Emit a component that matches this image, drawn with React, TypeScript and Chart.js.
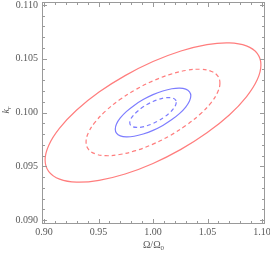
import React, { useEffect, useRef } from "react";
import { Chart, registerables } from "chart.js";

Chart.register(...registerables);

// ---- axis ticks ----
const xMajorTicks = [0.9, 0.95, 1.0, 1.05, 1.1];
const xTickLabels = ["0.90", "0.95", "1.00", "1.05", "1.10"];
const xMinorTicks = [0.91, 0.92, 0.93, 0.94, 0.96, 0.97, 0.98, 0.99, 1.01, 1.02, 1.03, 1.04, 1.06, 1.07, 1.08, 1.09];
const yMajorTicks = [0.09, 0.095, 0.1, 0.105, 0.11];
const yTickLabels = ["0.090", "0.095", "0.100", "0.105", "0.110"];
const yMinorTicks = [0.091, 0.092, 0.093, 0.094, 0.096, 0.097, 0.098, 0.099, 0.101, 0.102, 0.103, 0.104, 0.106, 0.107, 0.108, 0.109];
const xRange = [0.898165, 1.102752];
const yRange = [0.089628, 0.110279];

// ---- contours ----
const redOuterX = [1.099, 1.0956, 1.0857, 1.07, 1.0495, 1.0256, 1.0, 0.9744, 0.9505, 0.93, 0.9143, 0.9044, 0.901, 0.9044, 0.9143, 0.93, 0.9505, 0.9744, 1.0, 1.0256, 1.0495, 1.07, 1.0857, 1.0956];
const redOuterY = [0.10442, 0.10304, 0.10146, 0.09977, 0.09811, 0.09657, 0.09526, 0.09428, 0.09369, 0.09352, 0.0938, 0.0945, 0.09558, 0.09696, 0.09854, 0.10023, 0.1019, 0.10343, 0.10474, 0.10572, 0.10632, 0.10648, 0.1062, 0.1055];

const redInnerX = [1.0614, 1.0593, 1.0532, 1.0434, 1.0307, 1.0159, 1.0, 0.9841, 0.9693, 0.9566, 0.9469, 0.9407, 0.9386, 0.9407, 0.9469, 0.9566, 0.9693, 0.9841, 1.0, 1.0159, 1.0307, 1.0434, 1.0532, 1.0593];
const redInnerY = [0.10274, 0.10189, 0.1009, 0.09986, 0.09883, 0.09787, 0.09706, 0.09645, 0.09609, 0.09598, 0.09616, 0.09659, 0.09726, 0.09811, 0.0991, 0.10014, 0.10118, 0.10213, 0.10294, 0.10355, 0.10392, 0.10402, 0.10384, 0.10341];

const blueOuterX = [1.0347, 1.0335, 1.03, 1.0245, 1.0173, 1.009, 1.0, 0.991, 0.9827, 0.9755, 0.97, 0.9665, 0.9654, 0.9665, 0.97, 0.9755, 0.9827, 0.991, 1.0, 1.009, 1.0173, 1.0245, 1.03, 1.0335];
const blueOuterY = [0.10155, 0.10107, 0.10051, 0.09992, 0.09934, 0.0988, 0.09834, 0.098, 0.09779, 0.09773, 0.09783, 0.09808, 0.09845, 0.09893, 0.09949, 0.10008, 0.10066, 0.1012, 0.10166, 0.102, 0.10221, 0.10227, 0.10217, 0.10192];

const blueInnerX = [1.0213, 1.0206, 1.0184, 1.0151, 1.0106, 1.0055, 1.0, 0.9945, 0.9894, 0.985, 0.9816, 0.9794, 0.9787, 0.9794, 0.9816, 0.985, 0.9894, 0.9945, 1.0, 1.0055, 1.0106, 1.0151, 1.0184, 1.0206];
const blueInnerY = [0.10095, 0.10065, 0.10031, 0.09995, 0.09959, 0.09926, 0.09898, 0.09877, 0.09864, 0.09861, 0.09867, 0.09882, 0.09905, 0.09935, 0.09969, 0.10005, 0.10041, 0.10074, 0.10102, 0.10123, 0.10136, 0.10139, 0.10133, 0.10118];

const RED = "rgb(255,125,125)";
const BLUE = "rgb(125,125,255)";

function loop(xs: number[], ys: number[]) {
  const pts = xs.map((x, i) => ({ x, y: ys[i] }));
  const n = pts.length;
  return [pts[n - 1], ...pts, pts[0], pts[1]];
}

function contour(xs: number[], ys: number[], color: string, dash: number[]) {
  const data = loop(xs, ys);
  const len = data.length;
  return {
    data,
    showLine: true,
    borderColor: color,
    borderWidth: 1.2,
    borderDash: dash,
    tension: 0.4,
    pointRadius: 0,
    fill: false,
    segment: {
      borderColor: (ctx: any) =>
        ctx.p0DataIndex === 0 || ctx.p1DataIndex === len - 1 ? "rgba(0,0,0,0)" : undefined,
    },
  };
}

const framePlugin = {
  id: "mmaFrame",
  afterDraw(chart: any) {
    const { ctx, chartArea: a, scales } = chart;
    const xs = scales.x;
    const ys = scales.y;
    ctx.save();
    ctx.strokeStyle = "#9a9a9a";
    ctx.lineWidth = 1;
    ctx.strokeRect(a.left + 0.5, a.top + 0.5, a.right - a.left - 1, a.bottom - a.top - 1);
    ctx.beginPath();
    const xt = (v: number, len: number) => {
      const p = Math.round(xs.getPixelForValue(v)) + 0.5;
      ctx.moveTo(p, a.bottom);
      ctx.lineTo(p, a.bottom - len);
      ctx.moveTo(p, a.top);
      ctx.lineTo(p, a.top + len);
    };
    const yt = (v: number, len: number) => {
      const p = Math.round(ys.getPixelForValue(v)) + 0.5;
      ctx.moveTo(a.left, p);
      ctx.lineTo(a.left + len, p);
      ctx.moveTo(a.right, p);
      ctx.lineTo(a.right - len, p);
    };
    xMajorTicks.forEach((v) => xt(v, 5));
    xMinorTicks.forEach((v) => xt(v, 3));
    yMajorTicks.forEach((v) => yt(v, 5));
    yMinorTicks.forEach((v) => yt(v, 3));
    ctx.stroke();

    ctx.fillStyle = "#595959";
    ctx.font = '10px "Liberation Serif"';
    ctx.textAlign = "center";
    ctx.textBaseline = "middle";
    xMajorTicks.forEach((v, i) => {
      ctx.fillText(xTickLabels[i], xs.getPixelForValue(v), a.bottom + 8);
    });
    ctx.textAlign = "right";
    yMajorTicks.forEach((v, i) => {
      ctx.fillText(yTickLabels[i], a.left - 4, ys.getPixelForValue(v));
    });

    // x title: Ω/Ω0
    const main = "\u03A9/\u03A9";
    ctx.font = '10px "Liberation Serif"';
    const w1 = ctx.measureText(main).width;
    ctx.font = '7px "Liberation Serif"';
    const w2 = ctx.measureText("0").width;
    const cx = (a.left + a.right) / 2;
    let sx = cx - (w1 + w2) / 2;
    ctx.textAlign = "left";
    ctx.textBaseline = "alphabetic";
    ctx.font = '10px "Liberation Serif"';
    ctx.fillText(main, sx, 248);
    ctx.font = '7px "Liberation Serif"';
    ctx.fillText("0", sx + w1, 250);

    // y title: k_r rotated
    ctx.save();
    ctx.translate(9, 110);
    ctx.rotate(-Math.PI / 2);
    ctx.font = 'italic 10px "Liberation Serif"';
    const k1 = ctx.measureText("k").width;
    ctx.font = 'italic 7px "Liberation Serif"';
    const k2 = ctx.measureText("r").width;
    const kx = -(k1 + k2) / 2;
    ctx.font = 'italic 10px "Liberation Serif"';
    ctx.fillText("k", kx, 0);
    ctx.font = 'italic 7px "Liberation Serif"';
    ctx.fillText("r", kx + k1, 2);
    ctx.restore();

    ctx.restore();
  },
};

export default function App() {
  const ref = useRef<HTMLCanvasElement | null>(null);
  useEffect(() => {
    if (!ref.current) return;
    const chart = new Chart(ref.current, {
      type: "scatter",
      data: {
        datasets: [
          contour(redOuterX, redOuterY, RED, []),
          contour(redInnerX, redInnerY, RED, [4, 3]),
          contour(blueOuterX, blueOuterY, BLUE, []),
          contour(blueInnerX, blueInnerY, BLUE, [4, 3]),
        ] as any,
      },
      options: {
        responsive: false,
        animation: false,
        layout: { padding: { left: 42, right: 5, top: 2, bottom: 29 } },
        plugins: { legend: { display: false }, tooltip: { enabled: false } },
        scales: {
          x: { type: "linear", min: xRange[0], max: xRange[1], display: false },
          y: { type: "linear", min: yRange[0], max: yRange[1], display: false },
        },
      },
      plugins: [framePlugin],
    });
    return () => chart.destroy();
  }, []);
  return (
    <div style={{ position: "fixed", left: 0, top: 0, width: 270, height: 253, background: "#fff" }}>
      <canvas ref={ref} width={270} height={253} style={{ display: "block" }} />
    </div>
  );
}
